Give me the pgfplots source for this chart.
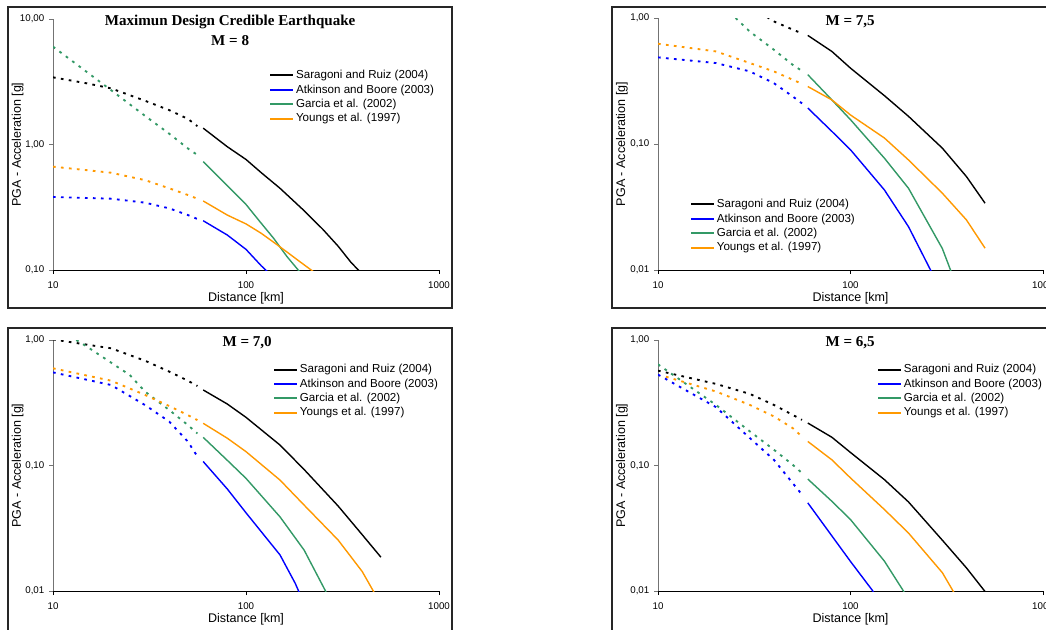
\documentclass[border=0pt]{standalone}
\usepackage{pgfplots}
\pgfplotsset{compat=1.18}
\usepackage{fontspec}
\setmainfont{Liberation Sans}
\newfontfamily\timesfont{Liberation Serif}
\definecolor{garcia}{RGB}{51,153,102}
\definecolor{youngs}{RGB}{255,153,0}
\definecolor{atk}{RGB}{0,0,255}

\tikzset{
  sol/.style={line width=1.05pt},
  dd/.style={line width=1.4pt, dash pattern=on 2pt off 4pt},
}
\pgfplotsset{
  every axis/.append style={
    scale only axis, xmin=10, xmax=1000,
    axis x line*=bottom, axis y line*=left, axis line style={-},
    x axis line style={black}, y axis line style={black!55},
    tick align=outside, major tick length=3pt,
    xminorticks=false, yminorticks=false,
    xtick={10,100,1000}, xticklabels={10,100,1000},
    tick label style={font=\fontsize{7.3}{8}\selectfont},
    xticklabel style={yshift=-2.5pt},
    xtick style={black}, ytick style={black!55},
    xlabel={Distance [km]}, ylabel={PGA - Acceleration [g]},
    label style={font=\fontsize{9.4}{11}\selectfont},
    xlabel style={at={(axis description cs:0.5,-0.1116)}, anchor=center},
    title style={font=\timesfont\bfseries\fontsize{11.3}{15}\selectfont,
      anchor=center, align=center, yshift=0pt},
    legend style={draw=none, fill=none, font=\fontsize{8.7}{10}\selectfont,
      anchor=north west, inner sep=0pt,
      row sep=0pt, nodes={inner sep=1.5pt}},
    legend cell align=left,
    legend image code/.code={\draw[#1, line width=1.4pt] (0cm,0cm) -- (0.6cm,0cm);},
  },
}

\begin{document}
\begin{tikzpicture}
\useasboundingbox (0pt,0pt) rectangle (784.5pt,-471.75pt);
\clip (0pt,0pt) rectangle (784.5pt,-471.75pt);
\fill[white] (0pt,0pt) rectangle (784.5pt,-471.75pt);

% chart area frames
\draw[black!85, line width=1pt] (6pt,-5.25pt) rectangle (339pt,-231pt);
\draw[black!85, line width=1pt] (459pt,-5.25pt) rectangle (795pt,-231pt);
\draw[black!85, line width=1pt] (6pt,-246pt) rectangle (339pt,-480pt);
\draw[black!85, line width=1pt] (459pt,-246pt) rectangle (795pt,-480pt);

% M = 8
\begin{axis}[xmode=log, ymode=log, at={(39.75pt,-202.5pt)}, anchor=south west,
  width=289.5pt, height=188.25pt, ymin=0.1, ymax=10,
  ytick={0.1,1,10}, yticklabels={{0,10},{1,00},{10,00}},
  ylabel style={at={(axis description cs:-0.0917,0.5)}, anchor=center},
  title={Maximun Design Credible Earthquake\\M = 8},
  title style={at={(0.459,0.924)}},
  legend style={at={(0.56,0.805)}}]
\addplot[sol, black] coordinates {(60,1.35) (80,0.96) (100,0.76) (120,0.596) (150,0.448) (200,0.297) (250,0.211) (300,0.155) (350,0.115) (400,0.093)};
\addplot[sol, atk] coordinates {(60,0.247) (80,0.19) (100,0.146) (120,0.108) (135,0.091)};
\addplot[sol, garcia] coordinates {(60,0.73) (80,0.47) (100,0.333) (118,0.243) (139,0.179) (163,0.128) (195,0.092)};
\addplot[sol, youngs] coordinates {(60,0.355) (80,0.274) (100,0.233) (120,0.196) (150,0.153) (200,0.11) (230,0.094)};
\addplot[dd, black, forget plot] coordinates {(10,3.43) (15,3.07) (20,2.80) (30,2.23) (40,1.88) (50,1.60) (56,1.40)};
\addplot[dd, atk, forget plot] coordinates {(10,0.382) (20,0.37) (30,0.344) (40,0.31) (50,0.274) (56,0.255)};
\addplot[dd, garcia, forget plot] coordinates {(10,6.02) (20,2.71) (30,1.69) (40,1.22) (50,0.93) (56,0.825)};
\addplot[dd, youngs, forget plot] coordinates {(10,0.666) (20,0.596) (30,0.52) (40,0.448) (50,0.396) (56,0.37)};
\legend{Saragoni and Ruiz (2004), Atkinson and Boore (2003), Garcia et al. (2002), Youngs et al. (1997)}
\end{axis}

% M = 7,5
\begin{axis}[xmode=log, ymode=log, at={(493.5pt,-202.5pt)}, anchor=south west,
  width=288.75pt, height=189pt, ymin=0.01, ymax=1,
  ytick={0.01,0.1,1}, yticklabels={{0,01},{0,10},{1,00}},
  ylabel style={at={(axis description cs:-0.0935,0.5)}, anchor=center},
  title={M = 7,5}, title style={at={(0.499,0.952)}},
  legend style={at={(0.083,0.29)}}]
\addplot[sol, black] coordinates {(60,0.728) (80,0.543) (100,0.40) (150,0.242) (200,0.166) (300,0.0927) (400,0.0552) (500,0.0339)};
\addplot[sol, atk] coordinates {(60,0.193) (80,0.126) (100,0.09) (150,0.0432) (200,0.0221) (265,0.0095)};
\addplot[sol, garcia] coordinates {(60,0.355) (80,0.224) (100,0.156) (150,0.0772) (200,0.0446) (300,0.0148) (335,0.0095)};
\addplot[sol, youngs] coordinates {(60,0.286) (80,0.224) (100,0.17) (150,0.1116) (200,0.0748) (300,0.0407) (400,0.025) (500,0.0149)};
\addplot[dd, black, forget plot] coordinates {(34,1.1) (40,0.94) (50,0.81) (56,0.755)};
\addplot[dd, atk, forget plot] coordinates {(10,0.487) (20,0.439) (30,0.377) (40,0.304) (50,0.239) (56,0.21)};
\addplot[dd, garcia, forget plot] coordinates {(25.3,1.0) (30,0.78) (40,0.56) (50,0.426) (56,0.38)};
\addplot[dd, youngs, forget plot] coordinates {(10,0.625) (20,0.543) (30,0.439) (40,0.377) (50,0.324) (56,0.30)};
\legend{Saragoni and Ruiz (2004), Atkinson and Boore (2003), Garcia et al. (2002), Youngs et al. (1997)}
\end{axis}

% M = 7,0
\begin{axis}[xmode=log, ymode=log, at={(39.75pt,-443.25pt)}, anchor=south west,
  width=289.5pt, height=188.25pt, ymin=0.01, ymax=1,
  ytick={0.01,0.1,1}, yticklabels={{0,01},{0,10},{1,00}},
  ylabel style={at={(axis description cs:-0.0917,0.5)}, anchor=center},
  title={M = 7,0}, title style={at={(0.503,0.956)}},
  legend style={at={(0.57,0.912)}}]
\addplot[sol, black] coordinates {(60,0.40) (80,0.309) (100,0.242) (150,0.1456) (200,0.093) (300,0.0476) (400,0.0281) (500,0.0186)};
\addplot[sol, atk] coordinates {(60,0.1076) (80,0.065) (100,0.042) (150,0.0194) (180,0.0115) (190,0.0095)};
\addplot[sol, garcia] coordinates {(60,0.1677) (80,0.11) (100,0.079) (150,0.039) (200,0.0212) (260,0.0098)};
\addplot[sol, youngs] coordinates {(60,0.217) (80,0.165) (100,0.129) (150,0.0766) (200,0.0484) (300,0.0255) (400,0.0143) (460,0.0098)};
\addplot[dd, black, forget plot] coordinates {(10,1.01) (20,0.859) (30,0.684) (40,0.56) (50,0.474) (56,0.43)};
\addplot[dd, atk, forget plot] coordinates {(10,0.552) (20,0.438) (30,0.303) (40,0.224) (50,0.155) (56,0.118)};
\addplot[dd, garcia, forget plot] coordinates {(13.2,1.0) (15,0.885) (20,0.66) (25,0.526) (30,0.388) (40,0.277) (50,0.21) (56,0.18)};
\addplot[dd, youngs, forget plot] coordinates {(10,0.595) (20,0.474) (30,0.365) (40,0.298) (50,0.252) (56,0.23)};
\legend{Saragoni and Ruiz (2004), Atkinson and Boore (2003), Garcia et al. (2002), Youngs et al. (1997)}
\end{axis}

% M = 6,5
\begin{axis}[xmode=log, ymode=log, at={(493.5pt,-443.25pt)}, anchor=south west,
  width=288.75pt, height=188.25pt, ymin=0.01, ymax=1,
  ytick={0.01,0.1,1}, yticklabels={{0,01},{0,10},{1,00}},
  ylabel style={at={(axis description cs:-0.0935,0.5)}, anchor=center},
  title={M = 6,5}, title style={at={(0.499,0.956)}},
  legend style={at={(0.569,0.912)}}]
\addplot[sol, black] coordinates {(60,0.218) (80,0.168) (100,0.127) (150,0.0772) (200,0.0513) (300,0.0254) (400,0.0153) (500,0.0099)};
\addplot[sol, atk] coordinates {(60,0.0504) (80,0.0275) (100,0.0172) (130,0.0101) (133,0.0095)};
\addplot[sol, garcia] coordinates {(60,0.078) (80,0.0519) (100,0.0371) (150,0.0173) (190,0.0098)};
\addplot[sol, youngs] coordinates {(60,0.1555) (80,0.111) (100,0.0796) (150,0.0446) (200,0.029) (300,0.014) (345,0.0097)};
\addplot[dd, black, forget plot] coordinates {(10,0.57) (20,0.447) (30,0.372) (40,0.304) (50,0.2535) (56,0.231)};
\addplot[dd, atk, forget plot] coordinates {(10,0.53) (20,0.292) (30,0.1655) (40,0.111) (50,0.0726) (56,0.0586)};
\addplot[dd, garcia, forget plot] coordinates {(10,0.64) (20,0.304) (30,0.187) (40,0.1336) (50,0.1016) (56,0.087)};
\addplot[dd, youngs, forget plot] coordinates {(11,0.51) (20,0.389) (30,0.304) (40,0.246) (50,0.199) (56,0.17)};
\legend{Saragoni and Ruiz (2004), Atkinson and Boore (2003), Garcia et al. (2002), Youngs et al. (1997)}
\end{axis}
\end{tikzpicture}
\end{document}
